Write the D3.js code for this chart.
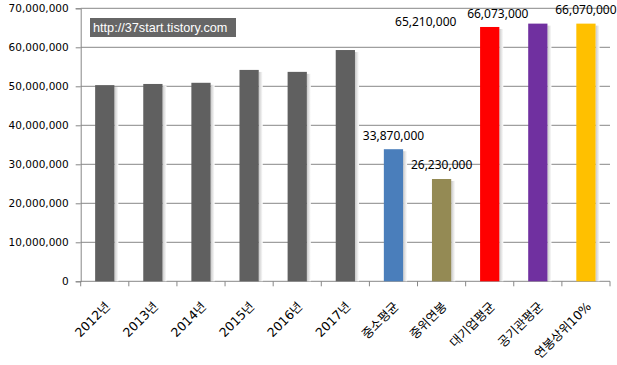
<!DOCTYPE html>
<html>
<head>
<meta charset="utf-8">
<script src="https://cdn.jsdelivr.net/npm/d3@7"></script>
<style>
  body { margin: 0; background: #fff; }
  #chart { width: 617px; height: 365px; }
</style>
</head>
<body>
<div id="chart"></div>
<script>
// chart data
var categories = ["2012년", "2013년", "2014년", "2015년", "2016년", "2017년",
                  "중소평균", "중위연봉", "대기업평균", "공기관평균", "연봉상위10%"];
var salaries = [50300000, 50600000, 50900000, 54200000, 53700000, 59300000,
                33870000, 26230000, 65210000, 66073000, 66070000];
var barColors = ["#606060", "#606060", "#606060", "#606060", "#606060", "#606060",
                 "#4a7ebb", "#948a54", "#ff0000", "#7030a0", "#ffc000"];
var labelled = ["중소평균", "중위연봉", "대기업평균", "공기관평균", "연봉상위10%"];
var yTicks = [0, 10000000, 20000000, 30000000, 40000000, 50000000, 60000000, 70000000];
var watermark = "http://37start.tistory.com";

// label nudges (the original excel labels drifted left)
var labelShift = {"대기업평균": [-64, 9], "공기관평균": [-40, 4], "연봉상위10%": [0, 0]};

var margin = {top: 8.3, right: 7, bottom: 83.7, left: 80.7},
    width = 617 - margin.left - margin.right,
    height = 365 - margin.top - margin.bottom;

var svg = d3.select("#chart").append("svg")
    .attr("width", 617)
    .attr("height", 365);

var defs = svg.append("defs");
var grad = defs.append("linearGradient").attr("id", "shadow");
grad.append("stop").attr("offset", "0%").attr("stop-color", "#c8c8c8");
grad.append("stop").attr("offset", "100%").attr("stop-color", "#ffffff");

var g = svg.append("g")
    .attr("transform", `translate(${margin.left},${margin.top})`);

var xScale = d3.scaleBand().domain(categories).range([0, width]).paddingInner(0.6).paddingOuter(0.3);
var yScale = d3.scaleLinear().domain([0, 70000000]).range([height, 0]);

// gridlines
g.append("g")
  .selectAll("line")
  .data(yTicks.slice(1))
  .enter().append("line")
    .attr("x1", 0)
    .attr("x2", width)
    .attr("y1", d => yScale(d))
    .attr("y2", d => yScale(d))
    .attr("stroke", "#878787")
    .attr("stroke-width", 1);

// y axis
var yAxis = d3.axisLeft(yScale)
    .tickValues(yTicks)
    .tickSize(5)
    .tickFormat(d3.format(","));
var yg = g.append("g").call(yAxis);
yg.select(".domain").attr("stroke", "#878787");
yg.selectAll(".tick line").attr("stroke", "#878787");
yg.selectAll(".tick text")
    .attr("x", -12)
    .attr("fill", "#000")
    .style("font-family", "DejaVu Sans")
    .style("font-size", "10.5px");

// x axis with ticks between categories
var step = width / categories.length;
var xg = g.append("g").attr("transform", `translate(0,${height})`);
xg.append("line")
    .attr("x1", 0).attr("x2", width)
    .attr("stroke", "#878787");
xg.selectAll(".xtick")
  .data(d3.range(categories.length + 1))
  .enter().append("line")
    .attr("x1", i => i * step)
    .attr("x2", i => i * step)
    .attr("y1", 0).attr("y2", 5)
    .attr("stroke", "#878787");
xg.selectAll(".xlabel")
  .data(categories)
  .enter().append("text")
    .attr("text-anchor", "end")
    .attr("transform", d => `translate(${xScale(d) + xScale.bandwidth() / 2 + 6},${26}) rotate(-45)`)
    .style("font-family", "DejaVu Sans, 'Noto Sans CJK KR'")
    .style("font-size", "12.5px")
    .attr("fill", "#000")
    .text(d => d);

// bars
var bars = g.append("g");
bars.selectAll(".shadow")
  .data(categories)
  .enter().append("rect")
    .attr("x", d => xScale(d) + xScale.bandwidth())
    .attr("y", (d, i) => yScale(salaries[i]) + 2)
    .attr("width", 4)
    .attr("height", (d, i) => height - yScale(salaries[i]) - 2)
    .attr("fill", "url(#shadow)");
bars.selectAll(".bar")
  .data(categories)
  .enter().append("rect")
    .attr("x", d => xScale(d))
    .attr("y", (d, i) => yScale(salaries[i]))
    .attr("width", xScale.bandwidth())
    .attr("height", (d, i) => height - yScale(salaries[i]))
    .attr("fill", (d, i) => barColors[i]);

// value labels
g.append("g")
  .selectAll("text")
  .data(labelled)
  .enter().append("text")
    .attr("text-anchor", "middle")
    .attr("x", d => xScale(d) + xScale.bandwidth() / 2 + (labelShift[d] ? labelShift[d][0] : 0))
    .attr("y", d => yScale(salaries[categories.indexOf(d)]) - 9.5 + (labelShift[d] ? labelShift[d][1] : 0))
    .style("font-family", "Noto Sans")
    .style("font-size", "12px")
    .attr("fill", "#000")
    .text(d => d3.format(",")(salaries[categories.indexOf(d)]));

// watermark box
svg.append("rect")
    .attr("x", 90).attr("y", 18)
    .attr("width", 146).attr("height", 19)
    .attr("fill", "#666666");
svg.append("text")
    .attr("x", 93).attr("y", 32)
    .style("font-family", "Liberation Sans")
    .style("font-size", "12.7px")
    .attr("fill", "#fff")
    .text(watermark);
</script>
</body>
</html>
